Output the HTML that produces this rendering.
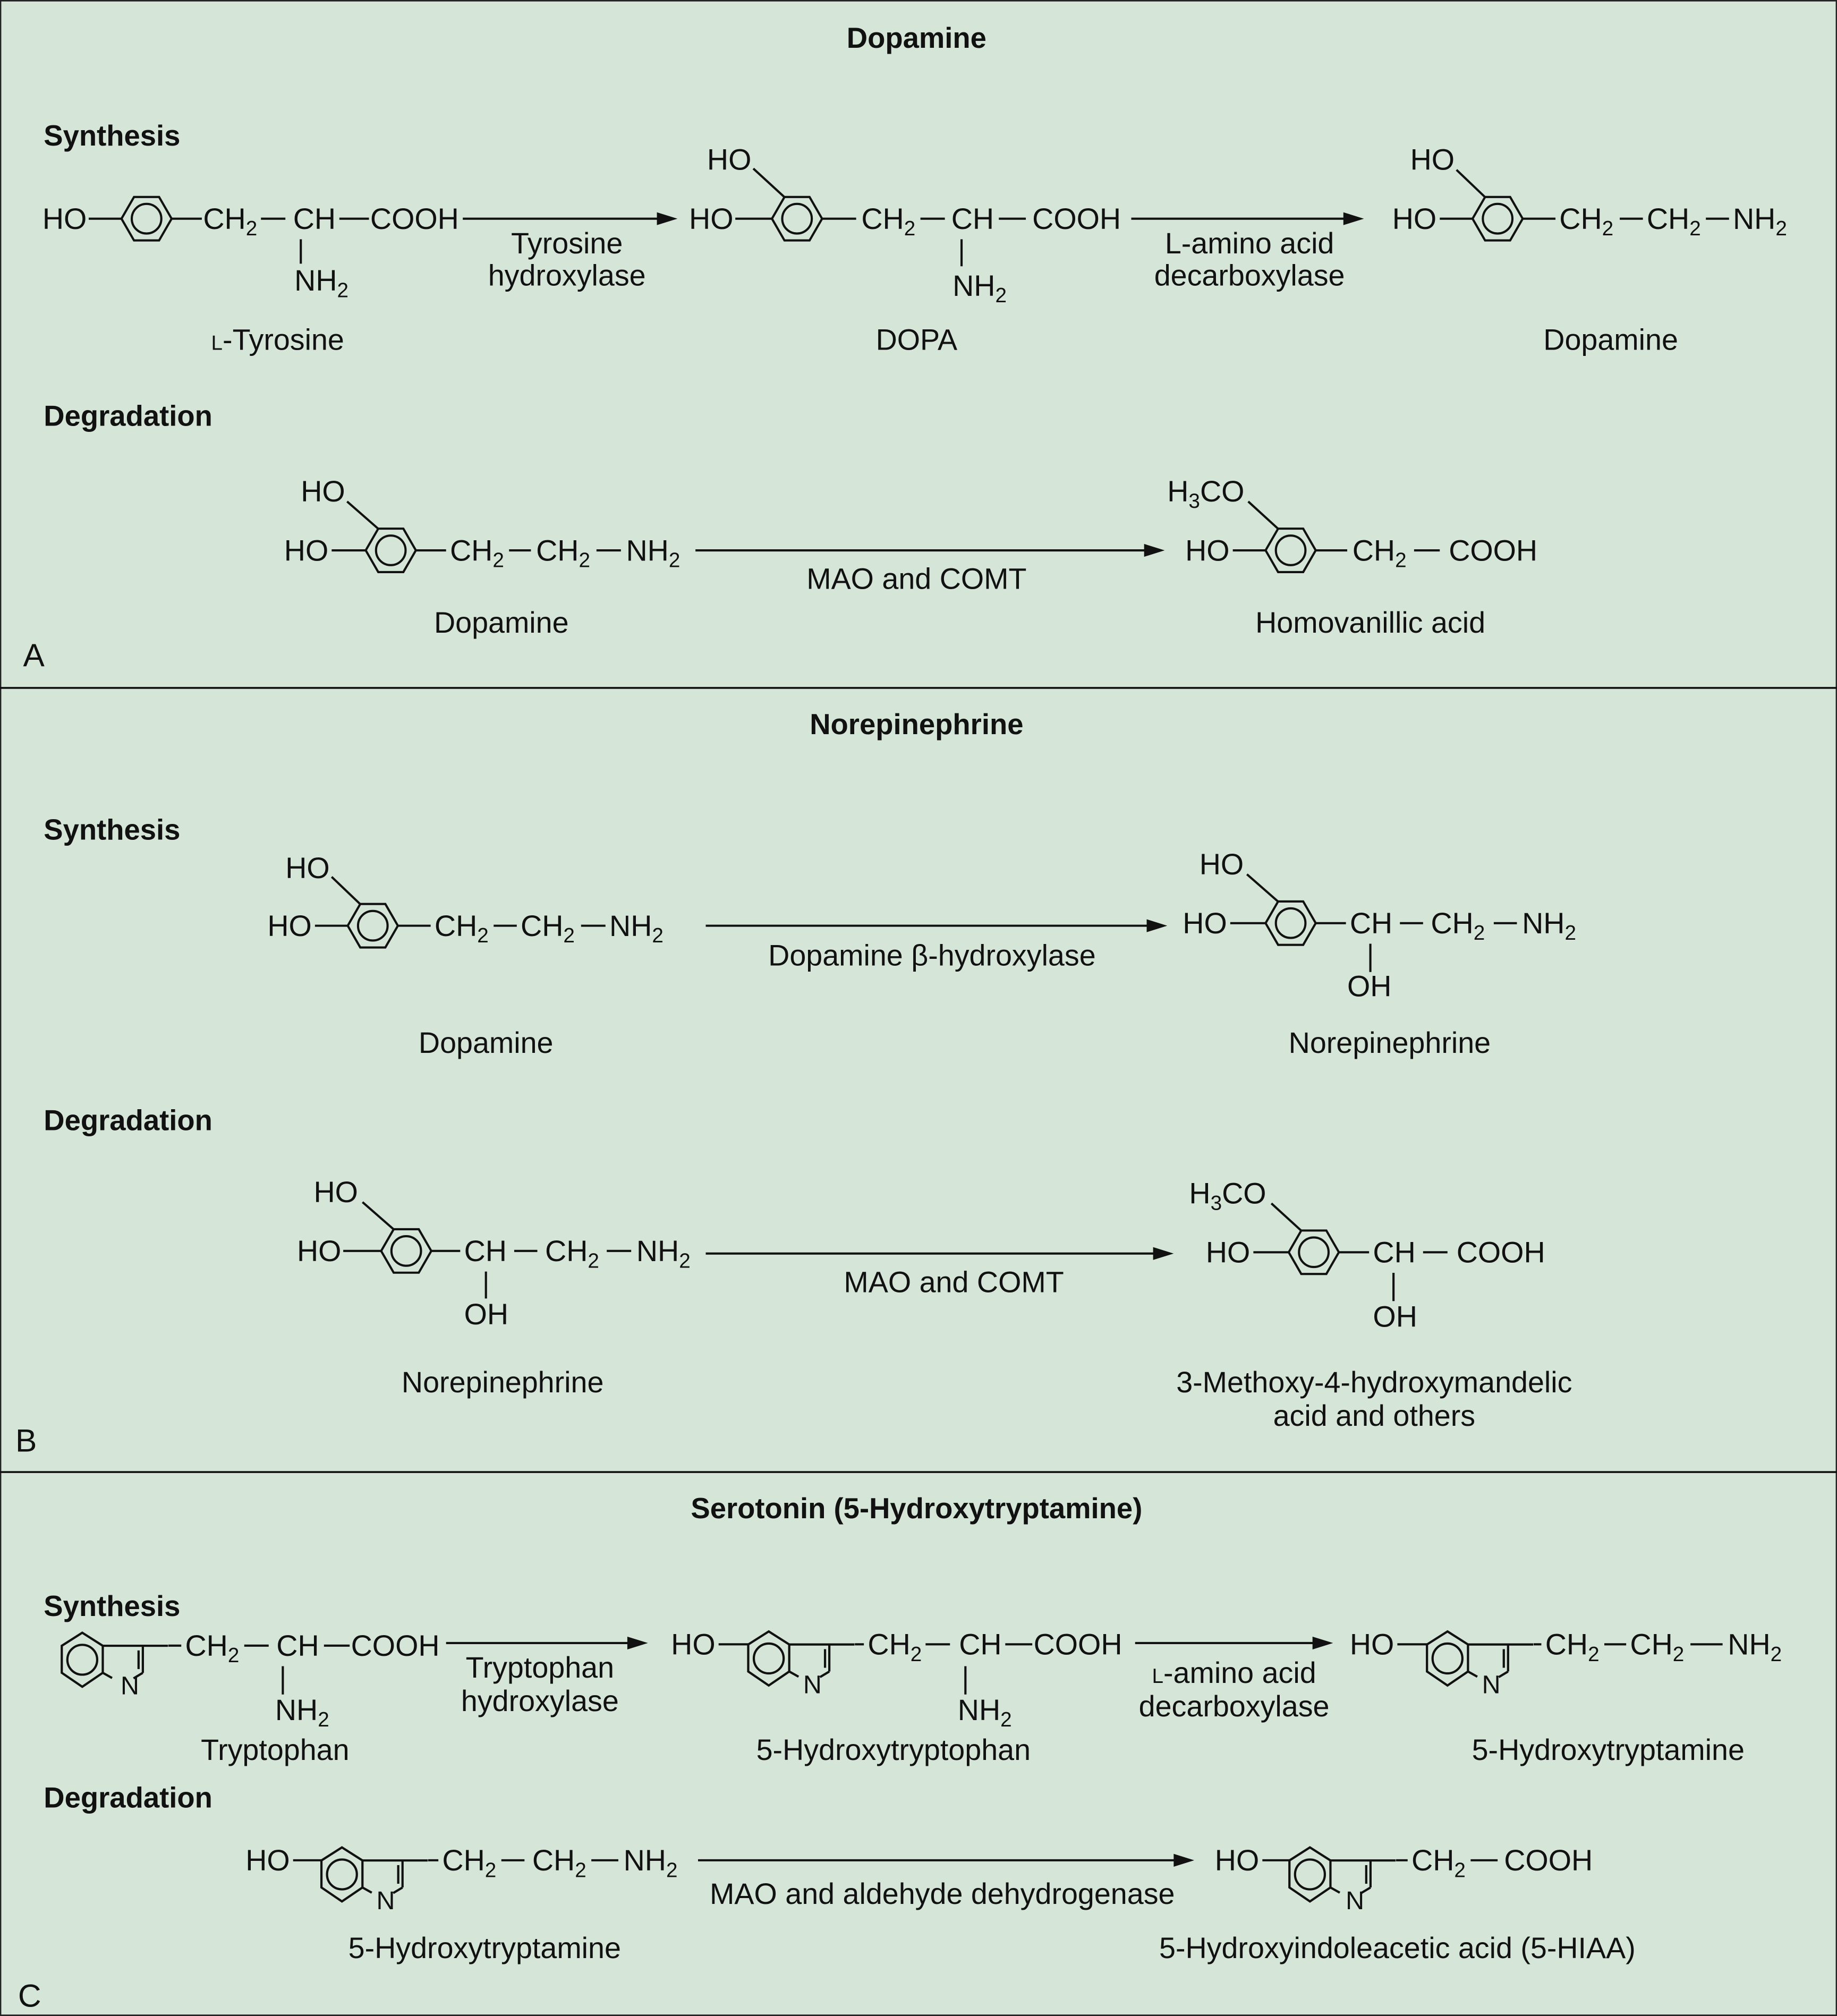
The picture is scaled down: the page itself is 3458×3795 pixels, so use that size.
<!DOCTYPE html>
<html><head><meta charset="utf-8"><style>
html,body{margin:0;padding:0;background:#d5e5d8}
svg{display:block}
text{font-family:"Liberation Sans",Arial,sans-serif;font-size:23px;fill:#111}
.b{font-weight:bold;font-size:22.5px}
.c{text-anchor:middle}
line,polygon,circle,path{stroke:#111;stroke-width:1.7;fill:none}
.ind line,.ind polygon,.ind circle{stroke-width:12}
.ah{fill:#111;stroke:none}
</style></head><body>
<svg width="3458" height="3795" viewBox="0 0 1429 1568" xmlns="http://www.w3.org/2000/svg">
<defs>
<g id="ring"><polygon points="-19.5,0 -9.75,-16.9 9.75,-16.9 19.5,0 9.75,16.9 -9.75,16.9"/><circle cx="0" cy="0" r="11.5"/></g>
<g id="ind" class="ind" transform="scale(0.145)"><polygon points="0,-145 110,-75 110,70 0,145 -110,70 -110,-75"/><circle cx="0" cy="0" r="80"/><line x1="110" y1="-75" x2="460" y2="-75"/><line x1="325" y1="-75" x2="325" y2="70"/><line x1="302" y1="-50" x2="302" y2="50"/><line x1="325" y1="70" x2="275" y2="100"/><line x1="110" y1="70" x2="160" y2="98"/></g>
</defs>
<rect x="0" y="0" width="1429" height="1568" fill="#d5e5d8" stroke="#222" stroke-width="2"/>
<line x1="0" y1="535" x2="1429" y2="535" style="stroke-width:1.5"/>
<line x1="0" y1="1145" x2="1429" y2="1145" style="stroke-width:1.5"/>

<!-- Panel A -->
<text class="b c" x="713" y="37">Dopamine</text>
<text class="b" x="34" y="113">Synthesis</text>
<text class="b" x="34" y="331">Degradation</text>
<text x="18" y="518" style="font-size:25px">A</text>

<text x="33" y="178">HO</text><line x1="69" y1="170" x2="95" y2="170"/>
<use href="#ring" x="114" y="170"/><line x1="133" y1="170" x2="157" y2="170"/>
<text x="158" y="178">CH<tspan font-size="16" dy="5">2</tspan></text><line x1="203" y1="170" x2="222" y2="170"/>
<text x="228" y="178">CH</text><line x1="264" y1="170" x2="287" y2="170"/>
<text x="288" y="178">COOH</text>
<line x1="234" y1="186" x2="234" y2="205"/>
<text x="229" y="226">NH<tspan font-size="16" dy="5">2</tspan></text>
<line x1="360" y1="170" x2="514" y2="170"/><polygon class="ah" points="527,170 511,165 511,175"/>
<text class="c" x="441" y="197">Tyrosine</text><text class="c" x="441" y="222">hydroxylase</text>
<text class="c" x="216" y="272"><tspan font-size="16">L</tspan>-Tyrosine</text>

<text x="536" y="178">HO</text><line x1="572" y1="170" x2="600" y2="170"/>
<use href="#ring" x="620" y="170"/><line x1="610" y1="153" x2="586" y2="131"/>
<text x="550" y="132">HO</text>
<line x1="640" y1="170" x2="666" y2="170"/>
<text x="670" y="178">CH<tspan font-size="16" dy="5">2</tspan></text><line x1="716" y1="170" x2="735" y2="170"/>
<text x="740" y="178">CH</text><line x1="777" y1="170" x2="798" y2="170"/>
<text x="803" y="178">COOH</text>
<line x1="748" y1="186" x2="748" y2="207"/>
<text x="741" y="230">NH<tspan font-size="16" dy="5">2</tspan></text>
<line x1="880" y1="170" x2="1048" y2="170"/><polygon class="ah" points="1061,170 1045,165 1045,175"/>
<text class="c" x="972" y="197">L-amino acid</text><text class="c" x="972" y="222">decarboxylase</text>
<text class="c" x="713" y="272">DOPA</text>

<text x="1083" y="178">HO</text><line x1="1120" y1="170" x2="1146" y2="170"/>
<use href="#ring" x="1165" y="170"/><line x1="1155" y1="153" x2="1133" y2="132"/>
<text x="1097" y="132">HO</text>
<line x1="1185" y1="170" x2="1210" y2="170"/>
<text x="1213" y="178">CH<tspan font-size="16" dy="5">2</tspan></text><line x1="1260" y1="170" x2="1278" y2="170"/>
<text x="1281" y="178">CH<tspan font-size="16" dy="5">2</tspan></text><line x1="1327" y1="170" x2="1345" y2="170"/>
<text x="1348" y="178">NH<tspan font-size="16" dy="5">2</tspan></text>
<text class="c" x="1253" y="272">Dopamine</text>

<text x="221" y="436">HO</text><line x1="258" y1="428" x2="285" y2="428"/>
<use href="#ring" x="304" y="428"/><line x1="294" y1="411" x2="270" y2="390"/>
<text x="234" y="390">HO</text>
<line x1="324" y1="428" x2="347" y2="428"/>
<text x="350" y="436">CH<tspan font-size="16" dy="5">2</tspan></text><line x1="396" y1="428" x2="413" y2="428"/>
<text x="417" y="436">CH<tspan font-size="16" dy="5">2</tspan></text><line x1="464" y1="428" x2="483" y2="428"/>
<text x="487" y="436">NH<tspan font-size="16" dy="5">2</tspan></text>
<line x1="541" y1="428" x2="893" y2="428"/><polygon class="ah" points="906,428 890,423 890,433"/>
<text class="c" x="713" y="458">MAO and COMT</text>
<text class="c" x="390" y="492">Dopamine</text>

<text x="922" y="436">HO</text><line x1="959" y1="428" x2="985" y2="428"/>
<use href="#ring" x="1004" y="428"/><line x1="994" y1="411" x2="971" y2="390"/>
<text x="908" y="390">H<tspan font-size="16" dy="5">3</tspan><tspan dy="-5">CO</tspan></text>
<line x1="1024" y1="428" x2="1048" y2="428"/>
<text x="1052" y="436">CH<tspan font-size="16" dy="5">2</tspan></text><line x1="1100" y1="428" x2="1120" y2="428"/>
<text x="1127" y="436">COOH</text>
<text class="c" x="1066" y="492">Homovanillic acid</text>

<!-- Panel B -->
<text class="b c" x="713" y="571">Norepinephrine</text>
<text class="b" x="34" y="653">Synthesis</text>
<text class="b" x="34" y="879">Degradation</text>
<text x="12" y="1129" style="font-size:25px">B</text>

<text x="208" y="728">HO</text><line x1="245" y1="720" x2="271" y2="720"/>
<use href="#ring" x="290" y="720"/><line x1="280" y1="703" x2="258" y2="682"/>
<text x="222" y="683">HO</text>
<line x1="310" y1="720" x2="335" y2="720"/>
<text x="338" y="728">CH<tspan font-size="16" dy="5">2</tspan></text><line x1="384" y1="720" x2="402" y2="720"/>
<text x="405" y="728">CH<tspan font-size="16" dy="5">2</tspan></text><line x1="452" y1="720" x2="471" y2="720"/>
<text x="474" y="728">NH<tspan font-size="16" dy="5">2</tspan></text>
<line x1="549" y1="720" x2="895" y2="720"/><polygon class="ah" points="908,720 892,715 892,725"/>
<text class="c" x="725" y="751">Dopamine β-hydroxylase</text>
<text class="c" x="378" y="819">Dopamine</text>

<text x="920" y="726">HO</text><line x1="957" y1="718" x2="985" y2="718"/>
<use href="#ring" x="1004" y="718"/><line x1="994" y1="701" x2="970" y2="680"/>
<text x="933" y="680">HO</text>
<line x1="1024" y1="718" x2="1047" y2="718"/>
<text x="1050" y="726">CH</text><line x1="1089" y1="718" x2="1107" y2="718"/>
<text x="1113" y="726">CH<tspan font-size="16" dy="5">2</tspan></text><line x1="1162" y1="718" x2="1180" y2="718"/>
<text x="1184" y="726">NH<tspan font-size="16" dy="5">2</tspan></text>
<line x1="1066" y1="734" x2="1066" y2="756"/>
<text x="1048" y="775">OH</text>
<text class="c" x="1081" y="819">Norepinephrine</text>

<text x="231" y="981">HO</text><line x1="267" y1="973" x2="297" y2="973"/>
<use href="#ring" x="316" y="973"/><line x1="306" y1="956" x2="282" y2="935"/>
<text x="244" y="935">HO</text>
<line x1="336" y1="973" x2="358" y2="973"/>
<text x="361" y="981">CH</text><line x1="400" y1="973" x2="418" y2="973"/>
<text x="424" y="981">CH<tspan font-size="16" dy="5">2</tspan></text><line x1="472" y1="973" x2="491" y2="973"/>
<text x="495" y="981">NH<tspan font-size="16" dy="5">2</tspan></text>
<line x1="378" y1="989" x2="378" y2="1010"/>
<text x="361" y="1030">OH</text>
<line x1="549" y1="975" x2="900" y2="975"/><polygon class="ah" points="913,975 897,970 897,980"/>
<text class="c" x="742" y="1005">MAO and COMT</text>
<text class="c" x="391" y="1083">Norepinephrine</text>

<text x="938" y="982">HO</text><line x1="975" y1="974" x2="1003" y2="974"/>
<use href="#ring" x="1022" y="974"/><line x1="1012" y1="957" x2="989" y2="936"/>
<text x="925" y="936">H<tspan font-size="16" dy="5">3</tspan><tspan dy="-5">CO</tspan></text>
<line x1="1042" y1="974" x2="1065" y2="974"/>
<text x="1068" y="982">CH</text><line x1="1107" y1="974" x2="1126" y2="974"/>
<text x="1133" y="982">COOH</text>
<line x1="1084" y1="990" x2="1084" y2="1012"/>
<text x="1068" y="1032">OH</text>
<text class="c" x="1069" y="1083">3-Methoxy-4-hydroxymandelic</text>
<text class="c" x="1069" y="1109">acid and others</text>

<!-- Panel C -->
<text class="b c" x="713" y="1181">Serotonin (5-Hydroxytryptamine)</text>
<text class="b" x="34" y="1257">Synthesis</text>
<text class="b" x="34" y="1406">Degradation</text>
<text x="14" y="1561" style="font-size:25px">C</text>

<use href="#ind" x="64" y="1291"/><line x1="131" y1="1280" x2="141" y2="1280"/>
<text class="c" x="101" y="1318" style="font-size:20px">N</text>
<text x="144" y="1288">CH<tspan font-size="16" dy="5">2</tspan></text><line x1="190" y1="1280" x2="209" y2="1280"/>
<text x="215" y="1288">CH</text><line x1="252" y1="1280" x2="272" y2="1280"/>
<text x="273" y="1288">COOH</text>
<line x1="220" y1="1296" x2="220" y2="1318"/>
<text x="214" y="1338">NH<tspan font-size="16" dy="5">2</tspan></text>
<line x1="347" y1="1278" x2="491" y2="1278"/><polygon class="ah" points="504,1278 488,1273 488,1283"/>
<text class="c" x="420" y="1305">Tryptophan</text><text class="c" x="420" y="1331">hydroxylase</text>
<text class="c" x="214" y="1369">Tryptophan</text>

<text x="522" y="1287">HO</text><line x1="559" y1="1279" x2="582" y2="1279"/>
<use href="#ind" x="598" y="1290"/><line x1="665" y1="1279" x2="672" y2="1279"/>
<text class="c" x="632" y="1317" style="font-size:20px">N</text>
<text x="675" y="1287">CH<tspan font-size="16" dy="5">2</tspan></text><line x1="720" y1="1279" x2="739" y2="1279"/>
<text x="746" y="1287">CH</text><line x1="782" y1="1279" x2="803" y2="1279"/>
<text x="804" y="1287">COOH</text>
<line x1="751" y1="1296" x2="751" y2="1318"/>
<text x="745" y="1338">NH<tspan font-size="16" dy="5">2</tspan></text>
<line x1="883" y1="1278" x2="1024" y2="1278"/><polygon class="ah" points="1037,1278 1021,1273 1021,1283"/>
<text class="c" x="960" y="1309"><tspan font-size="16">L</tspan>-amino acid</text><text class="c" x="960" y="1335">decarboxylase</text>
<text class="c" x="695" y="1369">5-Hydroxytryptophan</text>

<text x="1050" y="1287">HO</text><line x1="1087" y1="1279" x2="1110" y2="1279"/>
<use href="#ind" x="1126" y="1290"/><line x1="1193" y1="1279" x2="1199" y2="1279"/>
<text class="c" x="1160" y="1317" style="font-size:20px">N</text>
<text x="1202" y="1287">CH<tspan font-size="16" dy="5">2</tspan></text><line x1="1248" y1="1279" x2="1265" y2="1279"/>
<text x="1268" y="1287">CH<tspan font-size="16" dy="5">2</tspan></text><line x1="1315" y1="1279" x2="1340" y2="1279"/>
<text x="1344" y="1287">NH<tspan font-size="16" dy="5">2</tspan></text>
<text class="c" x="1251" y="1369">5-Hydroxytryptamine</text>

<text x="191" y="1455">HO</text><line x1="228" y1="1447" x2="250" y2="1447"/>
<use href="#ind" x="266" y="1458"/><line x1="333" y1="1447" x2="341" y2="1447"/>
<text class="c" x="300" y="1485" style="font-size:20px">N</text>
<text x="344" y="1455">CH<tspan font-size="16" dy="5">2</tspan></text><line x1="390" y1="1447" x2="408" y2="1447"/>
<text x="414" y="1455">CH<tspan font-size="16" dy="5">2</tspan></text><line x1="460" y1="1447" x2="481" y2="1447"/>
<text x="485" y="1455">NH<tspan font-size="16" dy="5">2</tspan></text>
<line x1="543" y1="1447" x2="916" y2="1447"/><polygon class="ah" points="929,1447 913,1442 913,1452"/>
<text class="c" x="733" y="1481">MAO and aldehyde dehydrogenase</text>
<text class="c" x="377" y="1523">5-Hydroxytryptamine</text>

<text x="945" y="1455">HO</text><line x1="982" y1="1447" x2="1003" y2="1447"/>
<use href="#ind" x="1019" y="1458"/><line x1="1086" y1="1447" x2="1095" y2="1447"/>
<text class="c" x="1054" y="1485" style="font-size:20px">N</text>
<text x="1098" y="1455">CH<tspan font-size="16" dy="5">2</tspan></text><line x1="1144" y1="1447" x2="1165" y2="1447"/>
<text x="1170" y="1455">COOH</text>
<text class="c" x="1087" y="1523">5-Hydroxyindoleacetic acid (5-HIAA)</text>
</svg>
</body></html>
